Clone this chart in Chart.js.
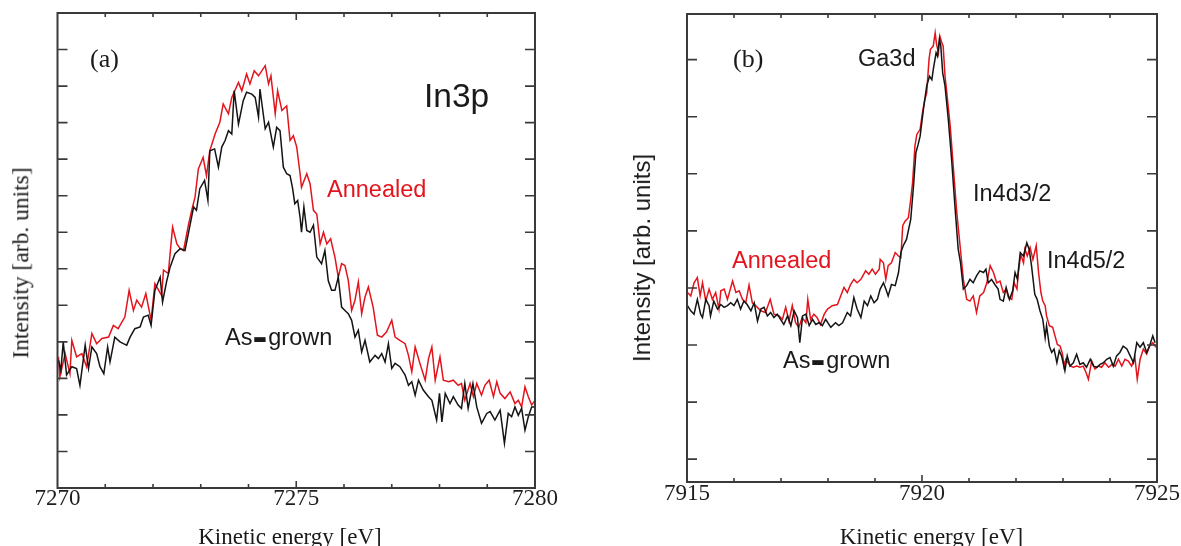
<!DOCTYPE html>
<html><head><meta charset="utf-8">
<script src="https://cdn.jsdelivr.net/npm/chart.js@4.4.1/dist/chart.umd.min.js"></script>
<style>
html,body{margin:0;padding:0;background:#fff;}
#wrap{position:relative;width:1181px;height:546px;overflow:hidden;background:#fff;}
canvas{position:absolute;top:0;}
.t{position:absolute;white-space:nowrap;line-height:1;}
.sans{font-family:"Liberation Sans",Arial,sans-serif;}
.serif{font-family:"Liberation Serif","Times New Roman",serif;}
.red{color:#e3141c;}
.blk{color:#1a1a1a;}
.rot{transform:translate(-50%,-50%) rotate(-90deg);}
.cx{transform:translateX(-50%);}
.dash{display:inline-block;font-weight:900;transform:scale(1.9,1.7);margin:0 4px;}
</style></head>
<body><div id="wrap">
<canvas id="ca" width="590" height="546" style="left:0"></canvas>
<canvas id="cb" width="581" height="546" style="left:600px"></canvas>

<div class="t serif blk" style="left:90px;top:46px;font-size:26px;">(a)</div>
<div class="t sans blk" style="left:424px;top:79px;font-size:33.5px;">In3p</div>
<div class="t sans red" style="left:327px;top:177.5px;font-size:23.5px;">Annealed</div>
<div class="t sans blk" style="left:225px;top:325.5px;font-size:23.5px;">As<span class="dash">-</span>grown</div>
<div class="t serif blk rot" style="left:21px;top:263px;font-size:23.5px;">Intensity [arb. units]</div>
<div class="t serif blk cx" style="left:290px;top:524.5px;font-size:23px;">Kinetic energy [eV]</div>

<div class="t serif blk" style="left:733px;top:46px;font-size:26px;">(b)</div>
<div class="t sans blk" style="left:858px;top:47px;font-size:23.5px;">Ga3d</div>
<div class="t sans blk" style="left:973px;top:182px;font-size:23.5px;">In4d3/2</div>
<div class="t sans red" style="left:732px;top:248.5px;font-size:23.5px;">Annealed</div>
<div class="t sans blk" style="left:1047px;top:249px;font-size:23.5px;">In4d5/2</div>
<div class="t sans blk" style="left:783px;top:348.5px;font-size:23.5px;">As<span class="dash">-</span>grown</div>
<div class="t sans blk rot" style="left:642px;top:258px;font-size:24px;">Intensity [arb. units]</div>
<div class="t serif blk cx" style="left:931.5px;top:525px;font-size:23px;">Kinetic energy [eV]</div>
</div>
<script>
// ---------- Panel (a): In3p ----------
const xTickLabelsA = [7270, 7275, 7280];
const eA_annealed = [7270.02,7270.05,7270.16,7270.26,7270.30,7270.40,7270.51,7270.61,7270.72,7270.82,
7270.93,7271.07,7271.17,7271.27,7271.41,7271.50,7271.59,7271.66,7271.76,7271.85,
7271.96,7272.04,7272.18,7272.22,7272.32,7272.41,7272.50,7272.57,7272.64,7272.74,
7272.81,7272.88,7272.95,7273.05,7273.12,7273.19,7273.30,7273.40,7273.47,7273.58,
7273.65,7273.79,7273.86,7273.96,7274.03,7274.12,7274.21,7274.35,7274.42,7274.47,
7274.56,7274.61,7274.70,7274.80,7274.87,7274.94,7275.01,7275.08,7275.11,7275.22,
7275.29,7275.36,7275.43,7275.50,7275.57,7275.64,7275.72,7275.81,7275.88,7275.95,
7276.02,7276.09,7276.16,7276.23,7276.30,7276.37,7276.44,7276.51,7276.61,7276.70,
7276.79,7276.89,7277.00,7277.07,7277.17,7277.28,7277.35,7277.42,7277.49,7277.59,
7277.70,7277.77,7277.84,7277.91,7278.01,7278.08,7278.19,7278.29,7278.39,7278.46,
7278.53,7278.64,7278.71,7278.78,7278.88,7278.95,7279.04,7279.13,7279.20,7279.27,
7279.37,7279.48,7279.58,7279.65,7279.72,7279.79,7279.86,7279.93,7280.00];
const iA_annealed = [3.59,3.04,3.68,3.13,4.04,3.59,3.68,3.32,4.23,3.95,
4.09,4.13,4.45,4.36,4.68,5.41,4.86,5.14,4.95,5.32,
4.59,5.59,5.27,5.96,5.87,7.14,6.68,6.55,6.50,7.19,
7.60,7.96,8.73,9.05,8.55,9.23,9.69,10.01,10.51,10.24,
10.69,11.10,10.87,11.33,11.06,11.42,11.28,11.56,11.06,11.28,
10.24,10.87,10.33,10.46,9.51,9.64,9.33,8.60,8.23,8.60,
8.32,7.60,7.50,6.68,7.00,6.68,6.82,6.32,5.77,6.14,
6.09,5.68,4.86,5.14,5.64,4.77,5.23,5.50,4.95,4.18,
4.13,4.27,4.59,4.13,4.04,3.95,3.63,3.18,3.86,3.41,
2.95,3.54,3.86,2.95,3.59,2.95,2.91,2.95,2.81,2.86,
2.40,2.86,2.50,2.86,2.54,2.81,2.95,2.50,2.91,2.59,
2.45,2.63,2.31,2.40,2.22,2.77,2.50,2.27,2.40];
const eA_asgrown = [7270.02,7270.07,7270.12,7270.19,7270.30,7270.40,7270.47,7270.58,7270.65,7270.72,
7270.82,7270.89,7270.97,7271.05,7271.10,7271.20,7271.31,7271.38,7271.45,7271.52,
7271.62,7271.73,7271.80,7271.90,7271.96,7272.04,7272.15,7272.20,7272.29,7272.36,
7272.46,7272.57,7272.67,7272.74,7272.85,7272.91,7272.98,7273.08,7273.15,7273.19,
7273.29,7273.37,7273.44,7273.51,7273.58,7273.65,7273.70,7273.79,7273.89,7273.96,
7274.07,7274.14,7274.21,7274.24,7274.35,7274.42,7274.52,7274.59,7274.66,7274.73,
7274.80,7274.87,7274.92,7274.97,7275.03,7275.08,7275.11,7275.16,7275.22,7275.29,
7275.36,7275.43,7275.53,7275.60,7275.67,7275.74,7275.81,7275.88,7275.95,7276.02,
7276.09,7276.16,7276.23,7276.30,7276.37,7276.44,7276.54,7276.65,7276.72,7276.79,
7276.86,7276.93,7277.00,7277.07,7277.17,7277.28,7277.35,7277.42,7277.49,7277.56,
7277.66,7277.77,7277.84,7277.94,7278.00,7278.05,7278.12,7278.22,7278.29,7278.39,
7278.46,7278.53,7278.60,7278.70,7278.78,7278.88,7278.99,7279.06,7279.16,7279.27,
7279.36,7279.44,7279.51,7279.58,7279.65,7279.72,7279.79,7279.86,7279.93,7280.00];
const iA_asgrown = [3.50,3.22,4.00,3.09,3.32,3.27,2.81,3.91,3.27,3.86,
3.68,3.32,3.13,3.86,3.45,4.13,4.00,3.95,3.91,4.13,
4.36,4.41,4.68,4.73,4.45,5.41,5.77,5.09,5.68,6.05,
6.41,6.55,6.50,6.96,7.69,7.60,8.19,8.42,7.87,9.23,
9.28,8.78,9.33,9.51,9.78,9.69,10.87,9.96,10.60,10.83,
10.78,10.69,10.15,10.92,9.83,10.01,9.33,9.87,9.78,8.78,
8.60,8.55,8.23,7.78,7.87,7.41,7.00,7.69,7.05,7.00,
7.19,6.32,6.14,6.50,5.68,5.41,5.41,5.77,4.95,4.86,
4.77,4.59,4.13,4.32,3.72,4.04,3.45,3.63,3.54,3.68,
3.45,3.95,3.27,3.41,3.32,3.09,2.81,2.91,2.54,2.95,
2.68,2.50,2.40,1.86,2.59,1.81,2.59,2.31,2.50,2.27,
2.18,2.86,2.18,2.86,2.22,1.77,2.04,2.09,1.86,2.13,
1.22,2.04,1.95,2.22,1.99,2.18,1.58,1.95,2.22,2.22];

// ---------- Panel (b): Ga3d / In4d ----------
const xTickLabelsB = [7915, 7920, 7925];
const eB_annealed = [7915.01,7915.08,7915.15,7915.22,7915.28,7915.33,7915.40,7915.47,7915.54,7915.61,
7915.68,7915.72,7915.79,7915.86,7915.97,7916.04,7916.11,7916.18,7916.25,7916.32,
7916.39,7916.46,7916.57,7916.67,7916.77,7916.85,7916.96,7917.03,7917.10,7917.17,
7917.24,7917.31,7917.38,7917.45,7917.53,7917.57,7917.63,7917.70,7917.77,7917.84,
7917.92,7917.99,7918.09,7918.20,7918.27,7918.34,7918.41,7918.48,7918.55,7918.62,
7918.70,7918.80,7918.87,7918.94,7919.01,7919.09,
7919.11,7919.18,7919.23,7919.28,7919.35,7919.43,7919.50,7919.55,7919.59,7919.64,
7919.71,7919.76,7919.80,7919.85,7919.89,7919.96,7920.01,7920.06,7920.10,7920.15,
7920.18,7920.24,7920.28,7920.31,7920.35,7920.38,7920.42,7920.45,7920.49,7920.52,
7920.60,7920.67,7920.74,7920.81,7920.88,7920.95,7921.02,7921.09,7921.16,7921.23,
7921.31,7921.38,7921.45,7921.52,7921.59,
7921.66,7921.73,7921.79,7921.84,7921.91,7921.96,7922.02,7922.05,7922.10,7922.16,
7922.19,7922.24,7922.30,7922.36,7922.43,7922.48,7922.53,7922.57,7922.62,7922.65,
7922.71,7922.78,7922.83,7922.88,7922.94,7922.99,7923.02,7923.06,7923.11,7923.16,
7923.22,7923.29,7923.36,7923.43,7923.49,7923.54,7923.61,7923.68,7923.75,7923.82,
7923.89,7923.97,7924.04,7924.11,7924.18,7924.25,7924.32,7924.39,7924.46,7924.53,
7924.58,7924.64,7924.71,7924.78,7924.84,7924.91,7924.98];
const iB_annealed = [2.92,2.86,3.09,3.18,2.86,3.09,2.77,2.98,2.80,2.92,
2.63,2.95,2.98,2.80,3.12,2.92,2.95,2.80,2.74,3.05,
2.74,2.69,2.60,2.57,2.80,2.54,2.51,2.45,2.66,2.42,
2.69,2.39,2.31,2.48,2.39,2.80,2.45,2.54,2.48,2.36,
2.54,2.63,2.69,2.71,2.86,3.01,2.92,3.06,3.15,3.09,
3.15,3.30,3.24,3.33,3.24,3.33,
3.50,3.44,3.15,3.39,3.44,3.62,3.56,3.53,4.09,4.17,
4.23,4.55,4.85,5.49,5.69,5.78,6.07,6.30,6.42,7.01,
7.18,7.24,7.47,7.27,7.12,7.41,7.30,7.24,6.71,6.48,
5.84,5.08,4.32,3.74,3.15,2.80,2.77,2.86,2.57,2.86,
2.92,3.09,3.39,3.27,3.09,
3.12,2.92,2.98,2.83,2.80,3.09,2.98,3.27,3.59,3.44,
3.68,3.56,3.71,3.50,3.74,3.27,2.92,2.77,2.69,2.51,
2.34,2.31,2.16,2.01,1.98,1.84,1.63,1.75,1.69,1.63,
1.61,1.63,1.61,1.63,1.52,1.40,1.72,1.58,1.63,1.61,
1.69,1.61,1.66,1.63,1.75,1.63,1.75,1.72,1.63,1.78,
1.40,1.75,1.93,1.84,1.98,2.04,1.96];
const eB_asgrown = [7915.01,7915.08,7915.15,7915.22,7915.29,7915.33,7915.40,7915.47,7915.50,7915.57,
7915.65,7915.72,7915.79,7915.86,7915.93,7916.00,7916.07,7916.14,7916.21,7916.28,
7916.36,7916.43,7916.50,7916.57,7916.64,7916.71,7916.78,7916.85,7916.92,7916.99,
7917.06,7917.14,7917.21,7917.28,7917.35,7917.40,7917.46,7917.53,7917.60,7917.67,
7917.74,7917.81,7917.88,7917.95,7918.06,7918.16,7918.23,7918.31,7918.41,7918.48,
7918.55,7918.62,7918.70,7918.77,7918.84,7918.91,7918.98,7919.05,
7919.11,7919.18,7919.23,7919.28,7919.35,7919.43,7919.50,7919.55,7919.60,7919.67,
7919.76,7919.82,7919.87,7919.92,7919.96,7920.03,7920.10,7920.16,7920.21,7920.24,
7920.30,7920.33,7920.37,7920.40,7920.44,7920.49,7920.56,7920.63,7920.70,7920.77,
7920.82,7920.88,7920.95,7921.02,7921.09,7921.16,7921.23,7921.31,7921.36,7921.41,
7921.48,7921.55,7921.62,
7921.66,7921.73,7921.79,7921.86,7921.93,7921.98,7922.03,7922.09,7922.16,7922.23,
7922.28,7922.33,7922.40,7922.45,7922.51,7922.57,7922.62,7922.65,7922.71,7922.76,
7922.81,7922.87,7922.92,7922.97,7923.04,7923.09,7923.15,7923.22,7923.29,7923.36,
7923.43,7923.50,7923.58,7923.65,7923.72,7923.79,7923.86,7923.93,7924.00,7924.07,
7924.14,7924.21,7924.28,7924.36,7924.43,7924.50,7924.57,7924.64,7924.71,7924.78,
7924.84,7924.91,7924.96];
const iB_asgrown = [2.69,2.60,2.54,2.80,2.54,2.48,2.80,2.69,2.51,2.77,
2.63,2.71,2.66,2.69,2.74,2.69,2.80,2.63,2.77,2.71,
2.60,2.74,2.42,2.63,2.66,2.51,2.57,2.48,2.54,2.45,
2.36,2.51,2.34,2.60,2.48,2.04,2.51,2.54,2.34,2.45,
2.36,2.39,2.34,2.45,2.31,2.39,2.34,2.39,2.57,2.51,
2.83,2.63,2.48,2.77,2.69,2.86,2.74,2.80,
2.98,3.09,2.98,2.86,3.06,3.04,3.27,3.62,3.74,3.85,
4.20,4.79,5.37,5.52,5.66,6.13,6.54,6.71,6.65,6.83,
7.12,7.06,7.36,7.24,6.77,6.54,5.95,5.25,4.44,3.68,
3.44,2.98,3.04,3.15,3.09,3.21,3.30,3.27,3.33,3.09,
3.15,3.06,2.98,
2.80,2.77,3.01,2.80,2.95,3.27,3.15,3.62,3.56,3.79,
3.68,3.39,2.89,2.80,2.60,2.45,2.13,2.34,1.98,1.87,
1.93,1.69,1.90,1.81,1.55,1.81,1.63,1.69,1.84,1.66,
1.69,1.61,1.75,1.63,1.61,1.66,1.69,1.75,1.78,1.63,
1.81,1.87,1.98,1.93,1.81,1.69,2.04,1.96,2.04,1.87,
1.98,2.16,2.04];

const RED = '#e3141c', BLACK = '#141414';
function pts(e, v){ const n=Math.min(e.length,v.length); const r=[]; for(let i=0;i<n;i++) r.push({x:e[i],y:v[i]}); return r; }

const framePlugin = {
  id:'frame',
  afterDatasetsDraw(chart, args, o){
    const {ctx, chartArea:{left,right,top,bottom}, scales:{x,y}} = chart;
    ctx.save();
    ctx.strokeStyle = '#3a3a3a';
    ctx.lineWidth = 1.6;
    ctx.beginPath();
    y.ticks.forEach(t=>{
      const py = y.getPixelForValue(t.value);
      if (py <= top+2 || py >= bottom-2) return;
      ctx.moveTo(left,py); ctx.lineTo(left+o.yLen,py);
      ctx.moveTo(right,py); ctx.lineTo(right-o.yLen,py);
    });
    x.ticks.forEach(t=>{
      const px = x.getPixelForValue(t.value);
      if (px <= left+2 || px >= right-2) return;
      const len = o.major.includes(t.value) ? o.xMajor : o.xMinor;
      ctx.moveTo(px,bottom); ctx.lineTo(px,bottom-len);
      ctx.moveTo(px,top); ctx.lineTo(px,top+len);
    });
    ctx.stroke();
    ctx.lineWidth = 2;
    ctx.strokeRect(left,top,right-left,bottom-top);
    ctx.restore();
  }
};

function makeChart(id, cfg){
  return new Chart(document.getElementById(id), {
    type:'line',
    data:{datasets:[
      {label:'As-grown', data:pts(cfg.eB, cfg.iB), borderColor:BLACK, borderWidth:1.5, pointRadius:0, tension:0, fill:false},
      {label:'Annealed', data:pts(cfg.eR, cfg.iR), borderColor:RED, borderWidth:1.5, pointRadius:0, tension:0, fill:false}
    ]},
    options:{
      responsive:false, animation:false, devicePixelRatio:1,
      layout:{padding:cfg.pad},
      plugins:{legend:{display:false}, tooltip:{enabled:false}, frame:cfg.frame},
      scales:{
        x:{type:'linear', min:cfg.xmin, max:cfg.xmax,
           grid:{display:false, drawTicks:false}, border:{display:false},
           ticks:{stepSize:1, autoSkip:false, maxRotation:0, padding:cfg.tickPad, color:'#1e1e1e',
                  font:{family:'"Liberation Serif", serif', size:23, lineHeight:1},
                  callback:(v)=> cfg.labels.includes(v) ? String(v) : ''},
           afterFit:(s)=>{ s.height = cfg.xh; }},
        y:{type:'linear', min:cfg.ymin, max:cfg.ymax,
           grid:{display:false, drawTicks:false}, border:{display:false},
           ticks:{stepSize:1, display:false},
           afterFit:(s)=>{ s.width = cfg.yw; }}
      }
    },
    plugins:[framePlugin]
  });
}

makeChart('ca', {eR:eA_annealed, iR:iA_annealed, eB:eA_asgrown, iB:iA_asgrown,
  xmin:7270, xmax:7280, ymin:0, ymax:13, labels:xTickLabelsA,
  pad:{left:0, top:13, right:55, bottom:0}, yw:57.5, xh:58, tickPad:-1,
  frame:{yLen:10, xMinor:4, xMajor:7, major:[7275]}});
makeChart('cb', {eR:eB_annealed, iR:iB_annealed, eB:eB_asgrown, iB:iB_asgrown,
  xmin:7915, xmax:7925, ymin:-0.4, ymax:7.8, labels:xTickLabelsB,
  pad:{left:0, top:14, right:24, bottom:0}, yw:87, xh:64, tickPad:0,
  frame:{yLen:10, xMinor:4, xMajor:7, major:[7920]}});
</script>
</body></html>
